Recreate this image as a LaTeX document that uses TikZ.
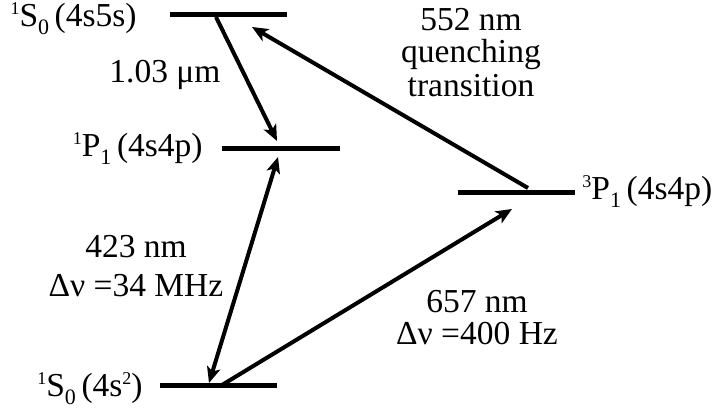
\documentclass[tikz,border=0pt]{standalone}
\usepackage{fontspec}
\setmainfont{Liberation Serif}
\usepackage{tikz}
\usetikzlibrary{arrows.meta, calc}

\newcommand{\lsub}[1]{\raisebox{-4pt}{\fontsize{11}{11}\selectfont #1}}
\newcommand{\lsup}[1]{\raisebox{6pt}{\fontsize{9}{9}\selectfont #1}}

\begin{document}
\begin{tikzpicture}[
    x=0.5pt, y=-0.5pt, font=\fontsize{16.75}{16.3}\selectfont,
    level/.style={line width=2.5pt},
    trans/.style={-{Stealth[length=8pt, width=6.8pt, inset=2pt]}, line width=2pt},
    both/.style={{Stealth[length=8pt, width=6.8pt, inset=2pt]}-{Stealth[length=8pt, width=6.8pt, inset=2pt]}, line width=2pt},
    term/.style={inner sep=0pt},
    lbl/.style={inner sep=0pt, align=center, anchor=north}
]
\useasboundingbox (0,0) rectangle (723,410);
% energy levels
\foreach \n/\xa/\xb/\y in {ss/170/287/15, pp/222/340/149, tp/458/575/193, gs/160/277/386}
  {\draw[level] (\xa,\y) coordinate (\n-l) -- (\xb,\y) coordinate (\n-r);}
% term labels
\node[term, anchor=base east] (tss) at (137,27) {\lsup{1}S\lsub{0}\,(4s5s)};
\node[term, anchor=base east] (tpp) at (203,157) {\lsup{1}P\lsub{1}\,(4s4p)};
\node[term, anchor=base west] (ttp) at (582,200) {\lsup{3}P\lsub{1}\,(4s4p)};
\node[term, anchor=base east] (tgs) at (143,397) {\lsup{1}S\lsub{0}\,(4s\lsup{2})};
% transition end points
\coordinate (ssA) at (216,17);
\coordinate (ppA) at (277,141);
\coordinate (ppB) at (278,157);
\coordinate (gsA) at (209,383);
\coordinate (gsB) at (222,385);
\coordinate (tpA) at (512,209);
\coordinate (tpB) at (528,188);
\coordinate (ssB) at (252,27);
% transitions
\draw[trans] (ssA) -- (ppA);
\draw[both] (gsA) -- (ppB);
\draw[trans] (gsB) -- (tpA);
\draw[trans] (tpB) -- (ssB);
% transition labels
\node[term, anchor=base] (l103) at (165,83) {1.03 μm};
\node[lbl] (l552) at (471,8) {552 nm\\[-0.3pt]quenching\\[0.6pt]transition};
\node[lbl] (l423) at (136,235) {423 nm\\[3.2pt]Δν =34 MHz};
\node[lbl] (l657) at (477,290) {657 nm\\[-0.3pt]Δν =400 Hz};
\end{tikzpicture}
\end{document}
